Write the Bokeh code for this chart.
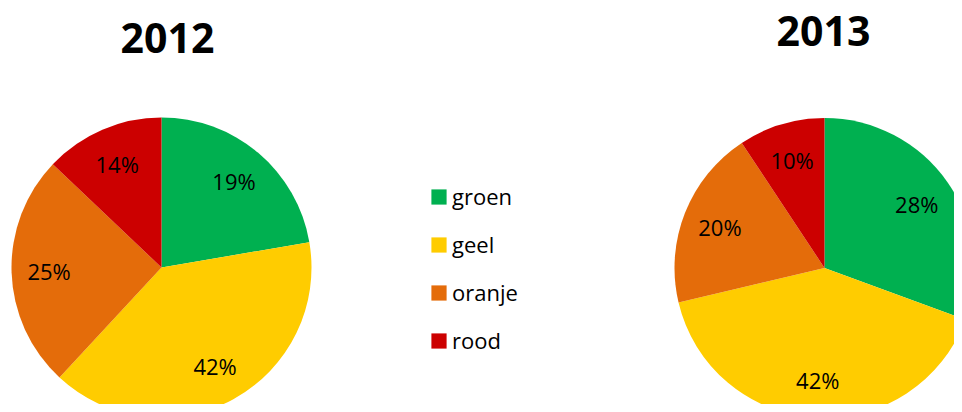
import math
from bokeh.plotting import figure
from bokeh.models import Range1d, Label, Legend, LegendItem, ColumnDataSource
from bokeh.core.properties import value
from bokeh.embed import file_html
from bokeh.resources import INLINE

# ---- data ----
categories = ["groen", "geel", "oranje", "rood"]
colors = ["#00B050", "#FFCC00", "#E46C0A", "#CC0000"]
years = ["2012", "2013"]
shares_2012 = [22.3, 39.6, 25.2, 12.9]          # slice sizes as drawn
shares_2013 = [30.6, 40.7, 19.4, 9.3]
labels_2012 = ["19%", "42%", "25%", "14%"]      # data labels as printed
labels_2013 = ["28%", "42%", "20%", "10%"]

W, H = 954, 404
FONT = "Open Sans"

p = figure(width=W, height=H, output_backend="svg", toolbar_location=None,
           x_range=Range1d(0, W), y_range=Range1d(0, H),
           min_border=0, min_border_left=0, min_border_right=0,
           min_border_top=0, min_border_bottom=0)
p.axis.visible = False
p.grid.visible = False
p.outline_line_color = None
p.background_fill_color = "white"
p.border_fill_color = "white"

R = 150
pies = [
    dict(shares=shares_2012, labels=labels_2012, cx=161, cy=H - 267, title=years[0],
         tx=167, ty=H - 37.7),
    dict(shares=shares_2013, labels=labels_2013, cx=824, cy=H - 267.5, title=years[1],
         tx=823, ty=H - 30),
]

first_renderer = None
for pie in pies:
    total = float(sum(pie["shares"]))
    starts, ends, lx, ly = [], [], [], []
    cum = 0.0
    for s in pie["shares"]:
        a0 = math.pi / 2 - 2 * math.pi * cum / total
        cum += s
        a1 = math.pi / 2 - 2 * math.pi * cum / total
        starts.append(a0)
        ends.append(a1)
        mid = (a0 + a1) / 2
        lx.append(pie["cx"] + 0.75 * R * math.cos(mid))
        ly.append(pie["cy"] + 0.75 * R * math.sin(mid))
    src = ColumnDataSource(dict(start=starts, end=ends, color=colors, cat=categories,
                                lx=lx, ly=ly, txt=pie["labels"]))
    r = p.wedge(x=pie["cx"], y=pie["cy"], radius=R, start_angle="start", end_angle="end",
                direction="clock", fill_color="color", line_color=None, source=src)
    if first_renderer is None:
        first_renderer = r
    p.text(x="lx", y="ly", text="txt", source=src, text_align="center",
           text_baseline="middle", text_font=value(FONT), text_font_size="22px",
           text_color="black")
    p.add_layout(Label(x=pie["tx"], y=pie["ty"], text=pie["title"], text_align="center",
                       text_baseline="middle", text_font=FONT, text_font_size="41px",
                       text_font_style="bold", text_color="black"))

items = [LegendItem(label=c, renderers=[first_renderer], index=i) for i, c in enumerate(categories)]
legend = Legend(items=items, location=(429, 49), orientation="vertical",
                glyph_width=19, glyph_height=19, label_standoff=4, spacing=18,
                padding=0, margin=0, background_fill_alpha=0, border_line_color=None,
                label_text_font=FONT, label_text_font_size="22px", label_text_color="black")
p.add_layout(legend, "center")

open("out.html", "w").write(file_html(p, INLINE))
